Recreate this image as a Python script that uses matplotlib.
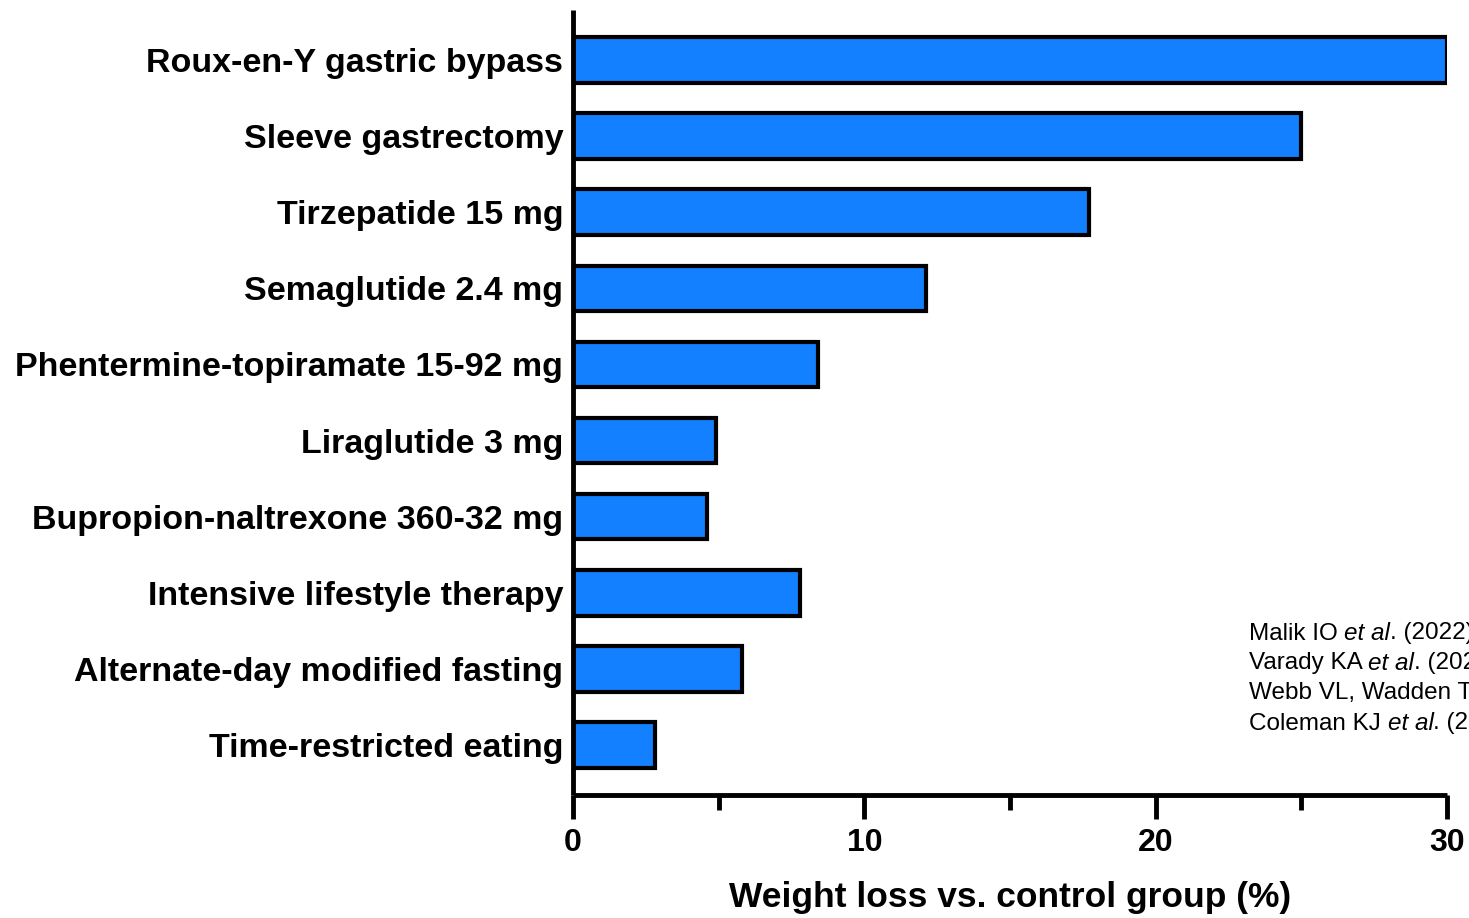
import matplotlib
matplotlib.use("Agg")
import matplotlib.pyplot as plt
from matplotlib.ticker import MultipleLocator

categories = [
    "Roux-en-Y gastric bypass",
    "Sleeve gastrectomy",
    "Tirzepatide 15 mg",
    "Semaglutide 2.4 mg",
    "Phentermine-topiramate 15-92 mg",
    "Liraglutide 3 mg",
    "Bupropion-naltrexone 360-32 mg",
    "Intensive lifestyle therapy",
    "Alternate-day modified fasting",
    "Time-restricted eating",
]
weight_loss = [30.0, 25.0, 17.7, 12.1, 8.4, 4.9, 4.6, 7.8, 5.8, 2.8]
x_ticks = [0, 10, 20, 30]
x_label = "Weight loss vs. control group (%)"
# each citation: list of (text, italic?)
citations = [
    [("Malik IO ", False), ("et al", True), (". (2022)", False)],
    [("Varady KA ", False), ("et al", True), (". (2021)", False)],
    [("Webb VL, Wadden TA (2017)", False)],
    [("Coleman KJ ", False), ("et al", True), (". (2022)", False)],
]

W, H = 1469, 918
fig = plt.figure(figsize=(W / 100, H / 100), dpi=100)
ax = fig.add_axes([573 / W, 1 - 795 / H, (1447 - 573) / W, (795 - 10) / H])

ypos = list(range(len(categories)))
ax.barh(ypos, weight_loss, height=0.6, color="#1280FF", edgecolor="black",
        linewidth=3.0, zorder=2)

ax.set_xlim(0, 30)
ax.set_ylim(len(categories) - 1 + 0.657, -0.657)
ax.set_yticks(ypos)
ax.set_yticklabels(categories, fontsize=24.5, fontweight="bold",
                   family=["Liberation Sans"])
ax.tick_params(axis="y", length=0, pad=7)

ax.set_xticks(x_ticks)
ax.xaxis.set_minor_locator(MultipleLocator(5))
ax.set_xticklabels([str(t) for t in x_ticks], fontsize=23, fontweight="bold",
                   family="Liberation Sans")
ax.tick_params(axis="x", which="major", length=17, width=3.5, pad=7)
ax.tick_params(axis="x", which="minor", length=11, width=3.5)
ax.set_xlabel(x_label, fontsize=25.5, fontweight="bold", family="Liberation Sans",
              labelpad=16)

for s in ["top", "right"]:
    ax.spines[s].set_visible(False)
for s in ["left", "bottom"]:
    ax.spines[s].set_linewidth(3.5)
    ax.spines[s].set_capstyle("butt")

renderer = fig.canvas.get_renderer()
for i, parts in enumerate(citations):
    x_px = 1249
    y = 1 - (631 + 30 * i) / H
    for txt, it in parts:
        t = fig.text(x_px / W, y, txt, fontsize=17.5,
                     family="Liberation Sans",
                     style="italic" if it else "normal",
                     va="center_baseline", ha="left")
        bb = t.get_window_extent(renderer=renderer)
        x_px += bb.width

fig.savefig("out.png", dpi=100)
